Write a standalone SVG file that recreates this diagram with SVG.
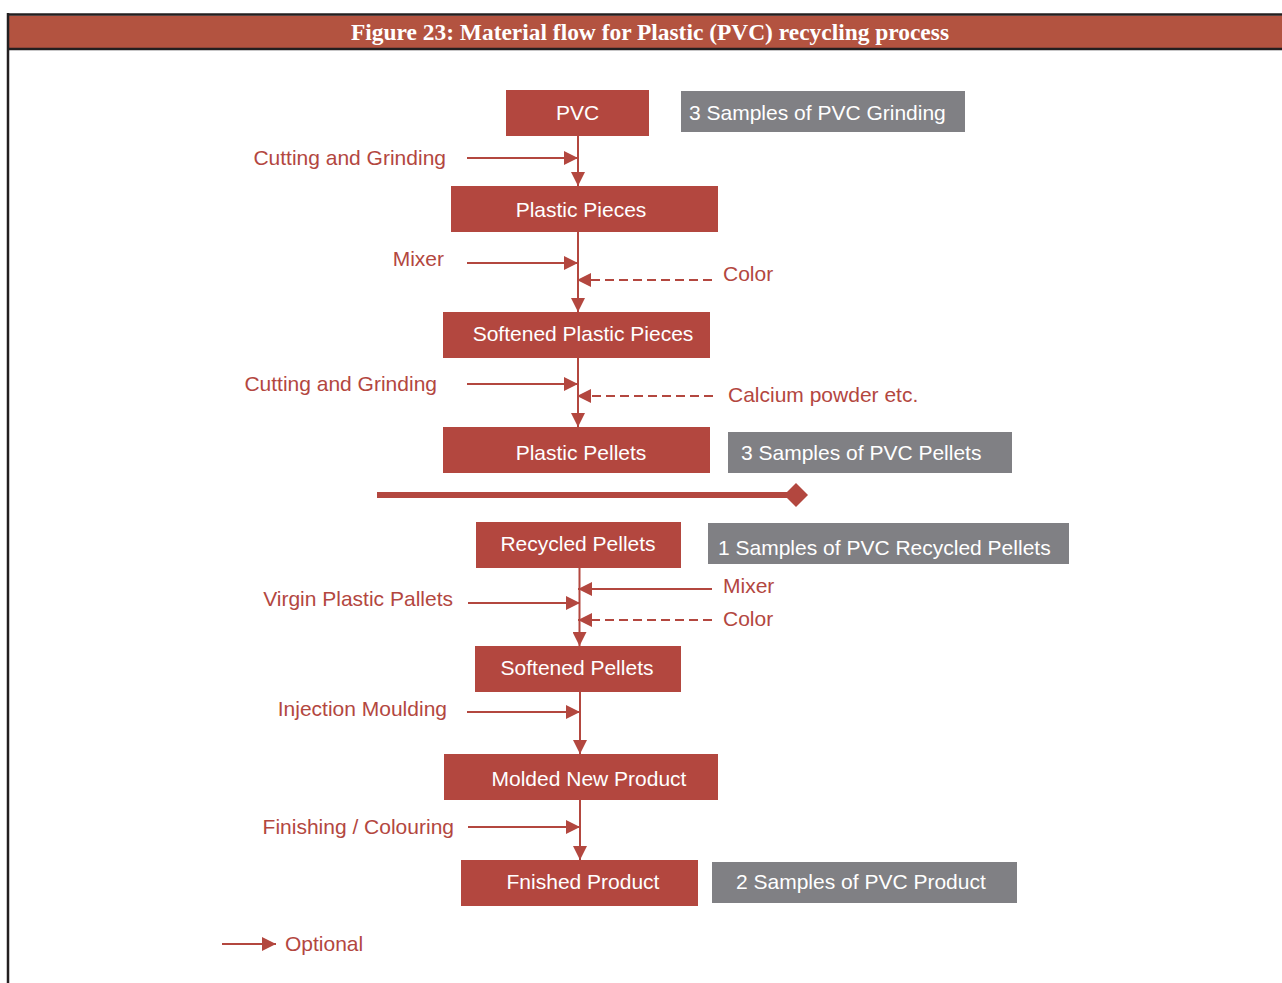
<svg xmlns="http://www.w3.org/2000/svg" width="1282" height="983" viewBox="0 0 1282 983">
  <style>
    .box { fill: #b3473f; }
    .smp { fill: #808084; }
    .bt { font-family: "Liberation Sans", Arial, sans-serif; font-size: 21px; fill: #ffffff; }
    .lbl { font-family: "Liberation Sans", Arial, sans-serif; font-size: 21px; fill: #b3473f; }
    .ln { stroke: #b3473f; stroke-width: 2; fill: none; }
    .dash { stroke: #b3473f; stroke-width: 2; fill: none; stroke-dasharray: 9 5; }
  </style>
  <defs>
    <marker id="ah" viewBox="0 0 14 14" refX="14" refY="7" markerWidth="14" markerHeight="14" orient="auto" markerUnits="userSpaceOnUse">
      <path d="M0,0 L14,7 L0,14 z" fill="#b3473f"/>
    </marker>
  </defs>

  <rect width="1282" height="983" fill="#ffffff"/>

  <!-- frame and header band -->
  <g id="header">
    <rect x="8" y="15.5" width="1274" height="33" fill="#b35340"/>
    <line x1="7" y1="14.5" x2="1282" y2="14.5" stroke="#231f20" stroke-width="2.5"/>
    <line x1="7" y1="49" x2="1282" y2="49" stroke="#231f20" stroke-width="2.5"/>
    <line x1="8" y1="13" x2="8" y2="983" stroke="#231f20" stroke-width="2.5"/>
    <text x="650" y="40" text-anchor="middle" textLength="598" lengthAdjust="spacingAndGlyphs" font-family="'Liberation Serif', 'Times New Roman', serif" font-weight="bold" font-size="23" fill="#ffffff">Figure 23: Material flow for Plastic (PVC) recycling process</text>
  </g>

  <!-- connectors -->
  <g id="connectors">
    <!-- upper chain -->
    <line class="ln" x1="578" y1="136" x2="578" y2="186" marker-end="url(#ah)"/>
    <line class="ln" x1="467" y1="158" x2="578" y2="158" marker-end="url(#ah)"/>
    <line class="ln" x1="578" y1="232" x2="578" y2="312" marker-end="url(#ah)"/>
    <line class="ln" x1="467" y1="263" x2="578" y2="263" marker-end="url(#ah)"/>
    <line class="dash" x1="712" y1="280" x2="577" y2="280" marker-end="url(#ah)"/>
    <line class="ln" x1="578" y1="358" x2="578" y2="427" marker-end="url(#ah)"/>
    <line class="ln" x1="467" y1="384" x2="578" y2="384" marker-end="url(#ah)"/>
    <line class="dash" x1="713" y1="396" x2="577" y2="396" marker-end="url(#ah)"/>

    <!-- divider -->
    <line x1="377" y1="495" x2="790" y2="495" stroke="#b3473f" stroke-width="6"/>
    <polygon points="796,483 808,495 796,507 784,495" fill="#b3473f"/>

    <!-- lower chain -->
    <line class="ln" x1="579.5" y1="568" x2="579.5" y2="646" marker-end="url(#ah)"/>
    <line class="ln" x1="712" y1="589" x2="578" y2="589" marker-end="url(#ah)"/>
    <line class="ln" x1="468" y1="603" x2="580" y2="603" marker-end="url(#ah)"/>
    <line class="dash" x1="712" y1="620" x2="578" y2="620" marker-end="url(#ah)"/>
    <line class="ln" x1="580" y1="692" x2="580" y2="754" marker-end="url(#ah)"/>
    <line class="ln" x1="467" y1="712" x2="580" y2="712" marker-end="url(#ah)"/>
    <line class="ln" x1="580" y1="800" x2="580" y2="860" marker-end="url(#ah)"/>
    <line class="ln" x1="468" y1="827" x2="580" y2="827" marker-end="url(#ah)"/>

    <!-- legend -->
    <line class="ln" x1="222" y1="944" x2="276" y2="944" marker-end="url(#ah)"/>
  </g>

  <!-- process nodes -->
  <g id="pvc"><rect class="box" x="506" y="90" width="143" height="46"/><text class="bt" x="577.5" y="120" text-anchor="middle">PVC</text></g>
  <g id="plastic-pieces"><rect class="box" x="451" y="186" width="267" height="46"/><text class="bt" x="581" y="217" text-anchor="middle">Plastic Pieces</text></g>
  <g id="softened-plastic-pieces"><rect class="box" x="443" y="312" width="267" height="46"/><text class="bt" x="583" y="341" text-anchor="middle">Softened Plastic Pieces</text></g>
  <g id="plastic-pellets"><rect class="box" x="443" y="427" width="267" height="46"/><text class="bt" x="581" y="460" text-anchor="middle">Plastic Pellets</text></g>
  <g id="recycled-pellets"><rect class="box" x="476" y="522" width="205" height="46"/><text class="bt" x="578" y="551" text-anchor="middle">Recycled Pellets</text></g>
  <g id="softened-pellets"><rect class="box" x="475" y="646" width="206" height="46"/><text class="bt" x="577" y="675" text-anchor="middle">Softened Pellets</text></g>
  <g id="molded-new-product"><rect class="box" x="444" y="754" width="274" height="46"/><text class="bt" x="589" y="786" text-anchor="middle">Molded New Product</text></g>
  <g id="finished-product"><rect class="box" x="461" y="860" width="237" height="46"/><text class="bt" x="583" y="889" text-anchor="middle">Fnished Product</text></g>

  <!-- sample notes -->
  <g id="samples-grinding"><rect class="smp" x="681" y="91" width="284" height="41"/><text class="bt" x="689" y="120">3 Samples of PVC Grinding</text></g>
  <g id="samples-pellets"><rect class="smp" x="728" y="432" width="284" height="41"/><text class="bt" x="741" y="460">3 Samples of PVC Pellets</text></g>
  <g id="samples-recycled"><rect class="smp" x="708" y="523" width="361" height="41"/><text class="bt" x="718" y="555">1 Samples of PVC Recycled Pellets</text></g>
  <g id="samples-product"><rect class="smp" x="712" y="862" width="305" height="41"/><text class="bt" x="736" y="889">2 Samples of PVC Product</text></g>

  <!-- input labels -->
  <g id="labels">
    <text class="lbl" x="446" y="165" text-anchor="end">Cutting and Grinding</text>
    <text class="lbl" x="444" y="266" text-anchor="end">Mixer</text>
    <text class="lbl" x="723" y="281">Color</text>
    <text class="lbl" x="437" y="391" text-anchor="end">Cutting and Grinding</text>
    <text class="lbl" x="728" y="402">Calcium powder etc.</text>
    <text class="lbl" x="723" y="593">Mixer</text>
    <text class="lbl" x="453" y="606" text-anchor="end">Virgin Plastic Pallets</text>
    <text class="lbl" x="723" y="626">Color</text>
    <text class="lbl" x="447" y="716" text-anchor="end">Injection Moulding</text>
    <text class="lbl" x="454" y="834" text-anchor="end">Finishing / Colouring</text>
    <text class="lbl" x="285" y="951">Optional</text>
  </g>
</svg>
